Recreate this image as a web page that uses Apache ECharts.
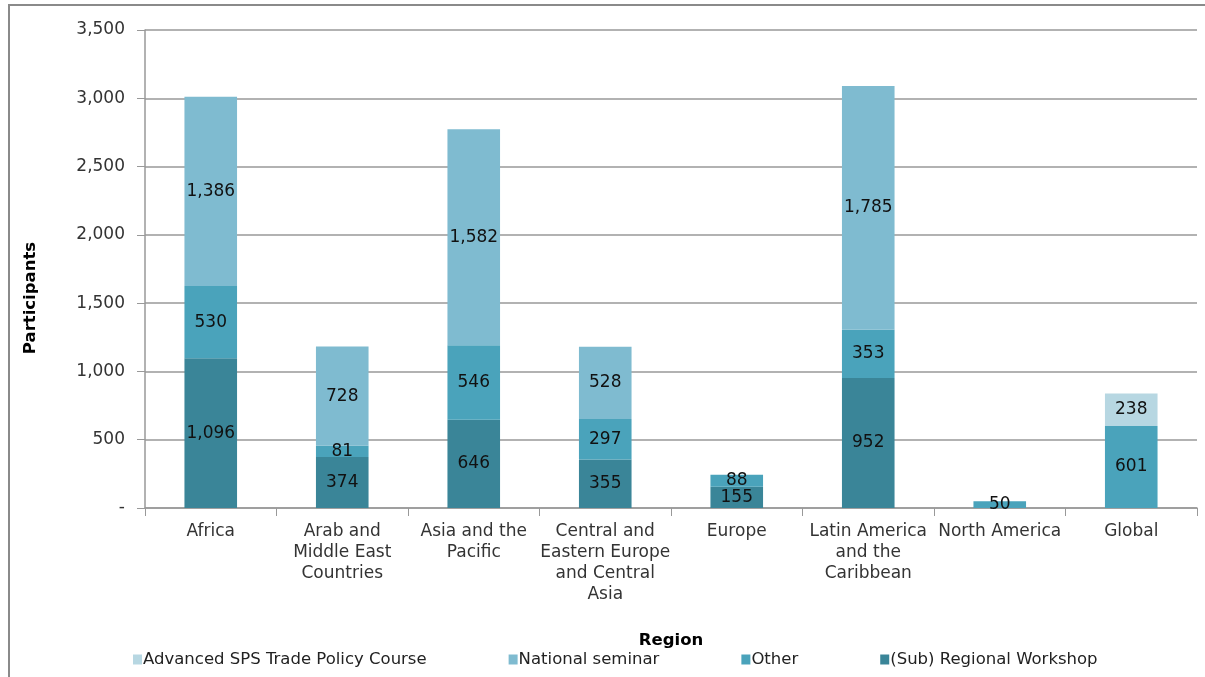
<!DOCTYPE html>
<html lang="en">
<head>
  <meta charset="UTF-8">
  <script src="https://cdn.jsdelivr.net/npm/echarts@6/dist/echarts.min.js"></script>
  <title>Participants by region</title>
  <style>
    html, body { margin: 0; padding: 0; background: #fff; }
    #frame {
      position: absolute; left: 8px; top: 4px; width: 1197px; height: 673px;
      border-top: 2px solid #8a8a8a; border-left: 2px solid #8a8a8a;
    }
    #main { position: absolute; left: 0; top: 0; width: 1205px; height: 677px; }
  </style>
</head>
<body>
  <div id="frame"></div>
  <div id="main"></div>
  <script>
    var regions = ['Africa', 'Arab and\nMiddle East\nCountries', 'Asia and the\nPacific',
      'Central and\nEastern Europe\nand Central\nAsia', 'Europe', 'Latin America\nand the\nCaribbean',
      'North America', 'Global']

    // stack order: bottom to top
    var regionalWorkshop = [1096, 374, 646, 355, 155, 952, null, null]
    var other = [530, 81, 546, 297, 88, 353, 50, 601]
    var nationalSeminar = [1386, 728, 1582, 528, null, 1785, null, null]
    var advancedCourse = [null, null, null, null, null, null, null, 238]

    var font = 'DejaVu Sans, Verdana, sans-serif'
    var fmt = v => v === 0 ? '-' : v.toLocaleString('en-US')

    var mk = (name, data, color) => ({
      name: name,
      type: 'bar',
      stack: 'all',
      barWidth: '40%',
      data: data,
      itemStyle: { color: color },
      label: {
        show: true,
        position: 'inside',
        color: '#111',
        fontFamily: font,
        fontSize: 17,
        formatter: p => fmt(p.value)
      }
    })

    var chart = echarts.init(document.getElementById('main'))
    chart.setOption({
      animation: false,
      grid: { left: 145, right: 8, top: 30, bottom: 169 },
      legend: {
        left: 128,
        top: 646,
        itemWidth: 9,
        itemHeight: 10,
        itemGap: 82,
        icon: 'rect',
        textStyle: { fontFamily: font, fontSize: 16.5, color: '#222', padding: [0, 0, 0, -4] },
        data: ['Advanced SPS Trade Policy Course', 'National seminar', 'Other', '(Sub) Regional Workshop']
      },
      xAxis: {
        type: 'category',
        data: regions,
        name: 'Region',
        nameLocation: 'middle',
        nameGap: 124,
        nameTextStyle: { fontFamily: font, fontSize: 16.5, fontWeight: 'bold', color: '#000' },
        axisLine: { lineStyle: { color: '#999', width: 1.5 } },
        axisTick: { show: true, length: 8, lineStyle: { color: '#999' } },
        axisLabel: { fontFamily: font, fontSize: 17, color: '#333', lineHeight: 21, margin: 13, interval: 0 }
      },
      yAxis: {
        type: 'value',
        min: 0,
        max: 3500,
        interval: 500,
        name: 'Participants',
        nameLocation: 'middle',
        nameGap: 106,
        nameTextStyle: { fontFamily: font, fontSize: 16.5, fontWeight: 'bold', color: '#000', padding: [0, 0, 0, -58] },
        axisLine: { show: true, lineStyle: { color: '#999', width: 1.5 } },
        axisTick: { show: true, length: 8, lineStyle: { color: '#999' } },
        splitLine: { lineStyle: { color: '#999', width: 1.5 } },
        axisLabel: { fontFamily: font, fontSize: 17, color: '#333', margin: 20, formatter: fmt }
      },
      series: [
        mk('(Sub) Regional Workshop', regionalWorkshop, '#3a8598'),
        mk('Other', other, '#4aa3bb'),
        mk('National seminar', nationalSeminar, '#7fbbd0'),
        mk('Advanced SPS Trade Policy Course', advancedCourse, '#b7d7e2')
      ]
    })
  </script>
</body>
</html>
